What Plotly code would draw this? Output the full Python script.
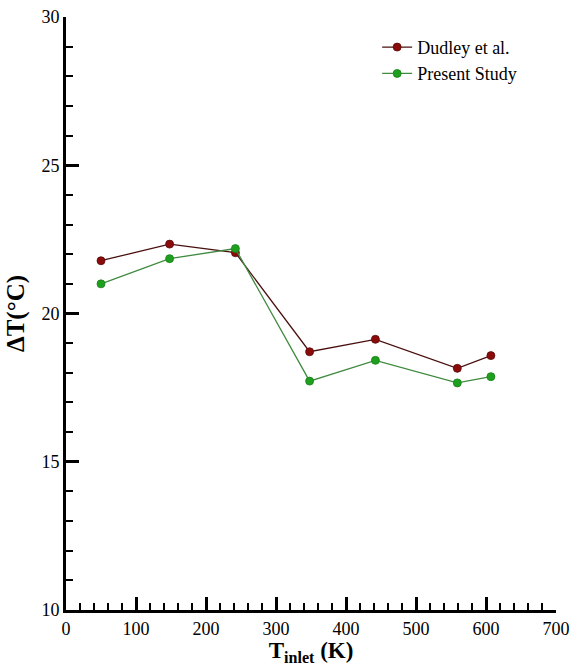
import plotly.graph_objects as go

t_inlet = [50, 148, 242, 348, 442, 559, 607]
dudley = [21.78, 22.34, 22.05, 18.71, 19.13, 18.15, 18.58]
present = [21.00, 21.85, 22.19, 17.72, 18.42, 17.66, 17.87]

x_ticks = [0, 100, 200, 300, 400, 500, 600, 700]
y_ticks = [10, 15, 20, 25, 30]

FONT = "Liberation Serif"

fig = go.Figure()
fig.add_trace(go.Scatter(
    x=t_inlet, y=dudley, mode="lines+markers", name="Dudley et al.",
    line=dict(color="#4a1010", width=1.3),
    marker=dict(color="#8b0b0b", size=8, line=dict(color="#5a0a0a", width=0.8)),
))
fig.add_trace(go.Scatter(
    x=t_inlet, y=present, mode="lines+markers", name="Present Study",
    line=dict(color="#3f8a3f", width=1.3),
    marker=dict(color="#1ea01e", size=8, line=dict(color="#168016", width=0.8)),
))

axis_common = dict(
    showgrid=False, zeroline=False, showline=True, linecolor="black", linewidth=3,
    ticks="inside", tickcolor="black", tickwidth=3, ticklen=13,
    tickfont=dict(family=FONT, size=18, color="black"),
    automargin=False, ticklabeloverflow="allow",
)

fig.update_xaxes(
    range=[0, 700], tickvals=x_ticks,
    minor=dict(ticks="inside", dtick=20, ticklen=7, tickwidth=1.5, tickcolor="black"),
    title=dict(text="<b>T<sub>inlet</sub> (K)</b>", font=dict(family=FONT, size=23, color="black"), standoff=0),
    **axis_common,
)
fig.update_yaxes(
    range=[10, 30], tickvals=y_ticks,
    minor=dict(ticks="inside", dtick=1, ticklen=7, tickwidth=1.5, tickcolor="black"),
    title=dict(text="<b>ΔT(°C)</b>", font=dict(family=FONT, size=25, color="black"), standoff=10),
    **axis_common,
)

fig.update_layout(
    width=571, height=666,
    margin=dict(l=66, r=15, t=17, b=56),
    paper_bgcolor="white", plot_bgcolor="white",
    showlegend=True,
    legend=dict(
        x=0.635, y=0.98, xanchor="left", yanchor="top",
        bgcolor="rgba(0,0,0,0)", borderwidth=0,
        font=dict(family=FONT, size=18, color="black"),
        tracegroupgap=0,
    ),
)

fig.write_html(
    "out.html",
    config={"displayModeBar": False},
    post_script="document.body.style.margin='0';document.body.style.overflow='hidden';",
)
